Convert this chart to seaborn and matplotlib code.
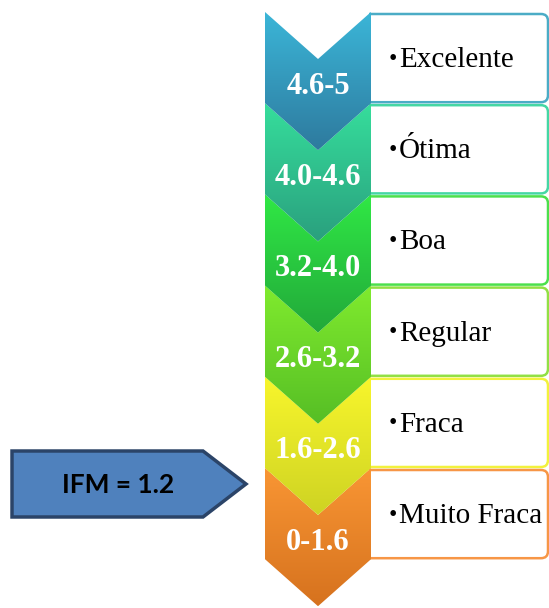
import numpy as np
import matplotlib
matplotlib.use("Agg")
import matplotlib.pyplot as plt
from matplotlib.patches import Polygon, PathPatch
from matplotlib.path import Path
from matplotlib.colors import LinearSegmentedColormap
import seaborn as sns

sns.set_theme(style="white")

# ---- data ----
ranges = ["4.6-5", "4.0-4.6", "3.2-4.0", "2.6-3.2", "1.6-2.6", "0-1.6"]
categories = ["Excelente", "Ótima", "Boa", "Regular", "Fraca", "Muito Fraca"]
ifm_value = 1.2
ifm_label = f"IFM = {ifm_value}"

top_colors = ["#3BB6D8", "#36DE9C", "#30E845", "#80EB2E", "#F8F62C", "#F99634"]
bot_colors = ["#2E7A9E", "#2AA07E", "#22A83A", "#56BE25", "#CED323", "#D6721E"]
edge_colors = ["#4BACC6", "#45D7A4", "#4CE04C", "#92E044", "#F2F23C", "#F79646"]

W, H = 549, 608
fig = plt.figure(figsize=(W / 100, H / 100), dpi=100)
ax = fig.add_axes([0, 0, 1, 1])
ax.set_xlim(0, W)
ax.set_ylim(H, 0)
ax.axis("off")

top0, band_h, notch = 12, 91.2, 47
left, right = 265, 371
cx = (left + right) / 2
box_right = 548
r = 7


def right_rounded_box(x0, y0, x1, y1, rad):
    verts = [(x0, y0), (x1 - rad, y0), (x1, y0), (x1, y0 + rad),
             (x1, y1 - rad), (x1, y1), (x1 - rad, y1), (x0, y1)]
    codes = [Path.MOVETO, Path.LINETO, Path.CURVE3, Path.CURVE3,
             Path.LINETO, Path.CURVE3, Path.CURVE3, Path.LINETO]
    return Path(verts, codes)


for i, (rng, cat) in enumerate(zip(ranges, categories)):
    t = top0 + i * band_h
    # text box
    box = PathPatch(right_rounded_box(right - 2, t + 2, box_right, t + band_h - 1, r),
                    fc="white", ec=edge_colors[i], lw=1.8, zorder=1)
    ax.add_patch(box)
    ax.text(389, t + 47, "•", fontsize=17, family="Liberation Serif",
            color="black", va="center", ha="left", zorder=5)
    ax.text(399, t + 48, cat, fontsize=21, family="Liberation Serif",
            color="black", va="center", ha="left", zorder=5)
    # chevron
    pts = [(left, t), (cx, t + notch), (right, t), (right, t + band_h),
           (cx, t + band_h + notch), (left, t + band_h)]
    z = 3 + (6 - i) * 0.01
    poly = Polygon(pts, closed=True, fc="none", ec="none", zorder=z)
    ax.add_patch(poly)
    cmap = LinearSegmentedColormap.from_list(f"g{i}", [top_colors[i], bot_colors[i]])
    grad = np.linspace(0, 1, 256).reshape(-1, 1)
    im = ax.imshow(grad, cmap=cmap, extent=(left, right, t + band_h + notch, t),
                   aspect="auto", zorder=z, interpolation="bilinear")
    im.set_clip_path(poly)
    ax.text(cx, t + 74, rng, fontsize=22, family="Liberation Serif", weight="bold",
            color="white", ha="center", va="center", zorder=6)

# IFM arrow
arrow = Polygon([(12, 451), (203, 451), (246, 484), (203, 517), (12, 517)],
                closed=True, fc="#4F81BD", ec="#2B4468", lw=2.5, zorder=4)
ax.add_patch(arrow)
ax.text(118, 485, ifm_label, fontsize=19, family="Lato", weight="bold",
        color="black", ha="center", va="center", zorder=6)

ax.set_xlim(0, W)
ax.set_ylim(H, 0)
fig.savefig("out.png", dpi=100)
